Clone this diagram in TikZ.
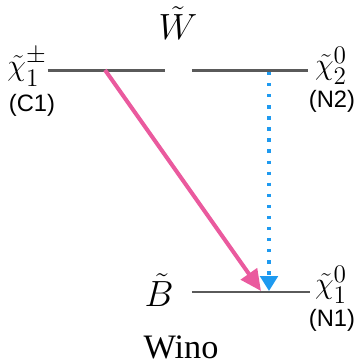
\documentclass[tikz,border=0pt]{standalone}
\usepackage{fontspec}
\usepackage{amsmath}
\newfontfamily\tagfont{Liberation Sans}
\newfontfamily\capfont{Liberation Serif}
\usetikzlibrary{arrows.meta}
\definecolor{lvlgray}{HTML}{5A5A5A}
\definecolor{decpink}{HTML}{EA5A9E}
\definecolor{decblue}{HTML}{1E9AF0}
\tikzset{
  lvl/.style   = {draw=lvlgray, line width=1.7pt},
  pdec/.style  = {draw=decpink, line width=2.3pt,
                  -{Triangle[length=12pt,width=11pt]}},
  bdec/.style  = {draw=decblue, line width=1.9pt, dash pattern=on 1.9pt off 4.4pt,
                  -{Triangle[length=8.5pt,width=10pt,fill=decblue]}},
  sym/.style   = {inner sep=0pt, font=\fontsize{19}{22}\selectfont},
  big/.style   = {inner sep=0pt, font=\fontsize{22}{25}\selectfont},
  tag/.style   = {inner sep=0pt, font=\tagfont\fontsize{13.5}{16}\selectfont},
  title/.style = {inner sep=0pt, font=\capfont\fontsize{19.5}{22}\selectfont},
}
\begin{document}
\begin{tikzpicture}[x=0.02cm,y=-0.02cm]
\useasboundingbox (0,0) rectangle (356,363);

% levels
\coordinate (c1l) at (48,70);  \coordinate (c1r) at (165,70);
\coordinate (n2l) at (192,70); \coordinate (n2r) at (308,70);
\coordinate (n1l) at (192,292); \coordinate (n1r) at (310,292);
\draw[lvl] (c1l) -- (c1r);
\draw[lvl] (n2l) -- (n2r);
\draw[lvl] (n1l) -- (n1r);

% labels
\node[big] (wino) at (178,23) {$\tilde{W}$};
\node[sym] (c1) at (27,67) {$\tilde{\chi}_1^{\pm}$};
\node[tag] (c1t) at (32,105) {(C1)};
\node[sym] (n2) at (331,66) {$\tilde{\chi}_2^{0}$};
\node[tag] (n2t) at (332,101) {(N2)};
\node[big] (bino) at (159,290) {$\tilde{B}$};
\node[sym] (n1) at (331,285) {$\tilde{\chi}_1^{0}$};
\node[tag] (n1t) at (332,320) {(N1)};
\node[title] (name) at (181,347) {Wino};

% decays
\coordinate (c1dec) at (105,70);
\coordinate (n2dec) at (269,72);
\coordinate (n1pk) at (261,291);
\coordinate (n1bl) at (269,291);
\draw[pdec] (c1dec) -- (n1pk);
\draw[bdec] (n2dec) -- (n1bl);
\end{tikzpicture}
\end{document}
